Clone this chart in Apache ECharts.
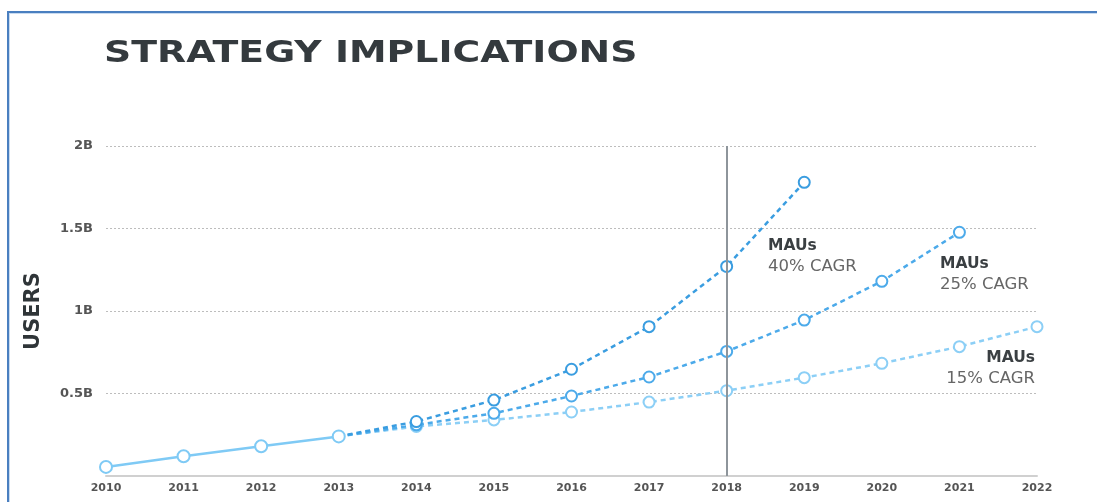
<!DOCTYPE html>
<html>
<head>
<meta charset="utf-8">
<script src="https://cdn.jsdelivr.net/npm/echarts@6/dist/echarts.min.js"></script>
<style>
html,body{margin:0;padding:0;background:#fff;}
#main{width:1097px;height:502px;}
</style>
</head>
<body>
<div id="main"></div>
<script>
// ---- data ----
var years = ['2010','2011','2012','2013','2014','2015','2016','2017','2018','2019','2020','2021','2022'];
var historical = [0.055, 0.12, 0.18, 0.24, null, null, null, null, null, null, null, null, null];
var cagr40 = [null, null, null, 0.24, 0.33, 0.46, 0.647, 0.905, 1.27, 1.78, null, null, null];
var cagr25 = [null, null, null, 0.24, 0.31, 0.38, 0.485, 0.60, 0.755, 0.945, 1.18, 1.477, null];
var cagr15 = [null, null, null, 0.24, 0.30, 0.34, 0.388, 0.448, 0.517, 0.596, 0.683, 0.784, 0.905];
var yTickLabels = {0.5: '0.5B', 1: '1B', 1.5: '1.5B', 2: '2B'};
var markerYear = '2018';
var titleText = 'STRATEGY IMPLICATIONS';
var yAxisTitle = 'USERS';
var notes = [
  {head: 'MAUs', sub: '40% CAGR'},
  {head: 'MAUs', sub: '25% CAGR'},
  {head: 'MAUs', sub: '15% CAGR'}
];

function projData(arr) {
  return arr.map(function (v, i) {
    if (v === null) return null;
    if (i === 3) return {value: v, symbol: 'none'};
    return v;
  });
}

function projSeries(name, arr, color, z) {
  return {
    name: name, type: 'line', data: projData(arr), z: z,
    symbol: 'emptyCircle', symbolSize: 11, connectNulls: false,
    lineStyle: {color: color, width: 2.5, type: [5, 4]},
    itemStyle: {color: color, borderColor: color, borderWidth: 2.5},
    emphasis: {disabled: true}, animation: false
  };
}

var headFont = 'bold 15.5px "DejaVu Sans"';
var subFont = '16.5px "DejaVu Sans"';

var chart = echarts.init(document.getElementById('main'));
var option = {
  animation: false,
  grid: {left: 106, right: 60, top: 146, bottom: 26, containLabel: false},
  xAxis: {
    type: 'category', data: years, boundaryGap: false,
    axisLine: {show: true, lineStyle: {color: '#d0d0d0', width: 2}},
    axisTick: {show: false},
    axisLabel: {color: '#555', fontFamily: 'DejaVu Sans', fontWeight: 'bold', fontSize: 11, margin: 7}
  },
  yAxis: {
    type: 'value', min: 0, max: 2, interval: 0.5,
    name: yAxisTitle, nameLocation: 'middle', nameRotate: 90, nameGap: 62,
    nameTextStyle: {color: '#2f3538', fontFamily: 'DejaVu Sans', fontWeight: 'bold', fontSize: 21},
    axisLine: {show: false}, axisTick: {show: false},
    axisLabel: {
      color: '#555', fontFamily: 'DejaVu Sans', fontWeight: 'bold', fontSize: 13, margin: 13,
      formatter: function (v) { return yTickLabels[v] || ''; }
    },
    splitLine: {show: true, lineStyle: {color: '#bdbdbd', width: 1, type: [2, 2]}}
  },
  graphic: [
    {type: 'rect', shape: {x: 7, y: 11, width: 1100, height: 2}, style: {fill: '#4a7fc0'}, silent: true},
    {type: 'rect', shape: {x: 7, y: 13, width: 1100, height: 1}, style: {fill: '#c9dbf0'}, silent: true},
    {type: 'rect', shape: {x: 7, y: 11, width: 2, height: 500}, style: {fill: '#4a7fc0'}, silent: true},
    {type: 'rect', shape: {x: 9, y: 13, width: 1, height: 500}, style: {fill: '#c9dbf0'}, silent: true},
    {type: 'text', x: 104, y: 38, scaleX: 1.22,
      style: {text: titleText, fill: '#343a3e', font: 'bold 31px "DejaVu Sans"'}},
    {type: 'text', left: 768, top: 238, style: {text: notes[0].head, fill: '#3a3f42', font: headFont}},
    {type: 'text', left: 768, top: 258, style: {text: notes[0].sub, fill: '#666', font: subFont}},
    {type: 'text', left: 940, top: 256, style: {text: notes[1].head, fill: '#3a3f42', font: headFont}},
    {type: 'text', left: 940, top: 276, style: {text: notes[1].sub, fill: '#666', font: subFont}},
    {type: 'text', right: 62, top: 350, style: {text: notes[2].head, fill: '#3a3f42', font: headFont, align: 'right'}},
    {type: 'text', right: 62, top: 370, style: {text: notes[2].sub, fill: '#666', font: subFont, align: 'right'}}
  ],
  series: [
    projSeries('15% CAGR', cagr15, '#8ccff6', 2),
    projSeries('25% CAGR', cagr25, '#4caaea', 3),
    projSeries('40% CAGR', cagr40, '#3a9de0', 4),
    {
      name: 'Historical', type: 'line', data: historical, z: 5,
      symbol: 'emptyCircle', symbolSize: 12,
      lineStyle: {color: '#7fcaf5', width: 2.5},
      itemStyle: {color: '#7fcaf5', borderColor: '#7fcaf5', borderWidth: 2.5},
      emphasis: {disabled: true},
      markLine: {
        silent: true, symbol: ['none', 'none'], label: {show: false},
        lineStyle: {color: '#8e959b', width: 2, type: 'solid'},
        data: [{xAxis: markerYear}]
      }
    }
  ]
};
chart.setOption(option);
</script>
</body>
</html>
